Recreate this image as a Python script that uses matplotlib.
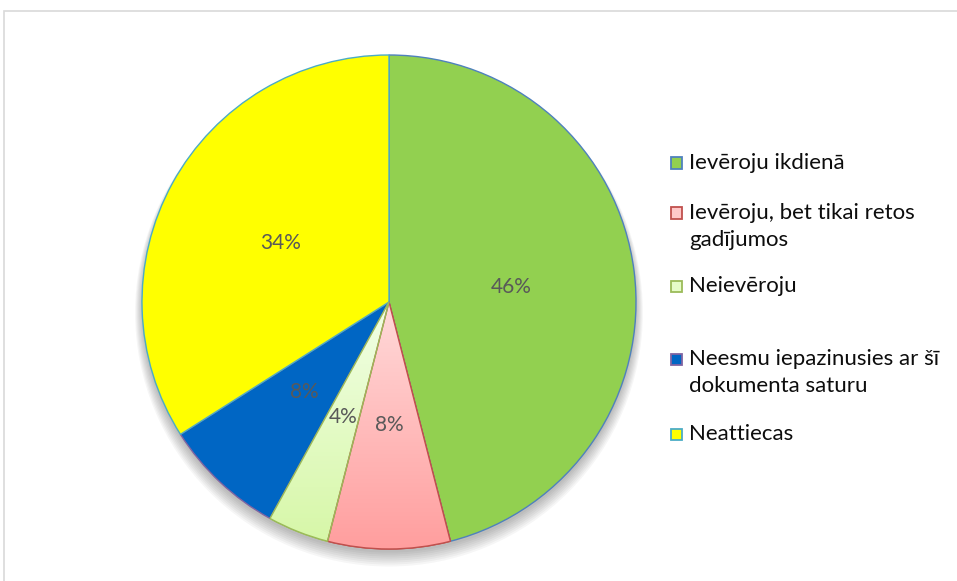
import numpy as np
import matplotlib.pyplot as plt
from matplotlib.patches import Rectangle, Circle, Wedge
from matplotlib.colors import LinearSegmentedColormap

labels = ['Ievēroju ikdienā',
          'Ievēroju, bet tikai retos\ngadījumos',
          'Neievēroju',
          'Neesmu iepazinusies ar šī\ndokumenta saturu',
          'Neattiecas']
shares = [46, 8, 4, 8, 34]

fills = ['#92D050', '#FFC8C8', '#E6FCC8', '#0066C4', '#FFFF00']
edges = ['#4F81BD', '#C0504D', '#9BBB59', '#8064A2', '#4BACC6']
# top / bottom colours for the two shaded slices
gradients = {1: ('#FFDADA', '#FF9E9E'), 2: ('#F2FFE6', '#D6F7A6')}

plt.rcParams['font.family'] = ['Lato', 'DejaVu Sans']

W, H = 957, 581
fig = plt.figure(figsize=(W / 100, H / 100), dpi=100)

# chart area frame
fig.patches.append(Rectangle((4 / W, -0.1), 1.1, 1.1 - 11 / H,
                             transform=fig.transFigure, fill=False,
                             edgecolor='#D9D9D9', linewidth=1.2))

cx, cy, r = 389, 302, 247
ax = fig.add_axes([(cx - r) / W, (H - cy - r) / H, 2 * r / W, 2 * r / H])
ax.set_aspect('equal')
ax.axis('off')

# soft shadow under the pie
for k in range(8):
    ax.add_patch(Circle((0, -0.015 - 0.004 * k), 1.0 + 0.004 * k,
                        color='black', alpha=0.035, zorder=0, linewidth=0,
                        clip_on=False))

wedges, texts, autotexts = ax.pie(
    shares, colors=fills, startangle=90, counterclock=False,
    radius=1.0, autopct='%1.0f%%', pctdistance=0.5,
    wedgeprops=dict(linewidth=1.0, clip_on=False),
    textprops=dict(color='#595959', fontsize=15))

for w, ec in zip(wedges, edges):
    w.set_edgecolor(ec)
    w.set_zorder(2)
for t in autotexts:
    t.set_zorder(5)

for i, (c_top, c_bot) in gradients.items():
    cmap = LinearSegmentedColormap.from_list('g%d' % i, [c_bot, c_top])
    grad = np.linspace(0, 1, 256).reshape(-1, 1)
    im = ax.imshow(grad, cmap=cmap, extent=(-1, 1, -1, 0), origin='lower',
                   aspect='auto', zorder=3)
    im.set_clip_path(wedges[i])
    ax.add_patch(Wedge(wedges[i].center, wedges[i].r,
                       wedges[i].theta1, wedges[i].theta2,
                       fill=False, edgecolor=edges[i],
                       linewidth=1.0, zorder=4, clip_on=False))

ax.set_xlim(-1, 1)
ax.set_ylim(-1, 1)

# legend, drawn line by line
entry_y = [163, 213, 286, 359, 434]
line_gap = 27
box = 11
for lab, fc, ec, y in zip(labels, fills, edges, entry_y):
    fig.patches.append(Rectangle((671 / W, (H - y - box / 2) / H), box / W, box / H,
                                 transform=fig.transFigure, facecolor=fc,
                                 edgecolor=ec, linewidth=1.3))
    for k, part in enumerate(lab.split('\n')):
        fig.text(689 / W, (H - y - k * line_gap) / H, part, fontsize=16,
                 color='#0D0D0D', va='center', ha='left')

fig.savefig('out.png', dpi=100)
